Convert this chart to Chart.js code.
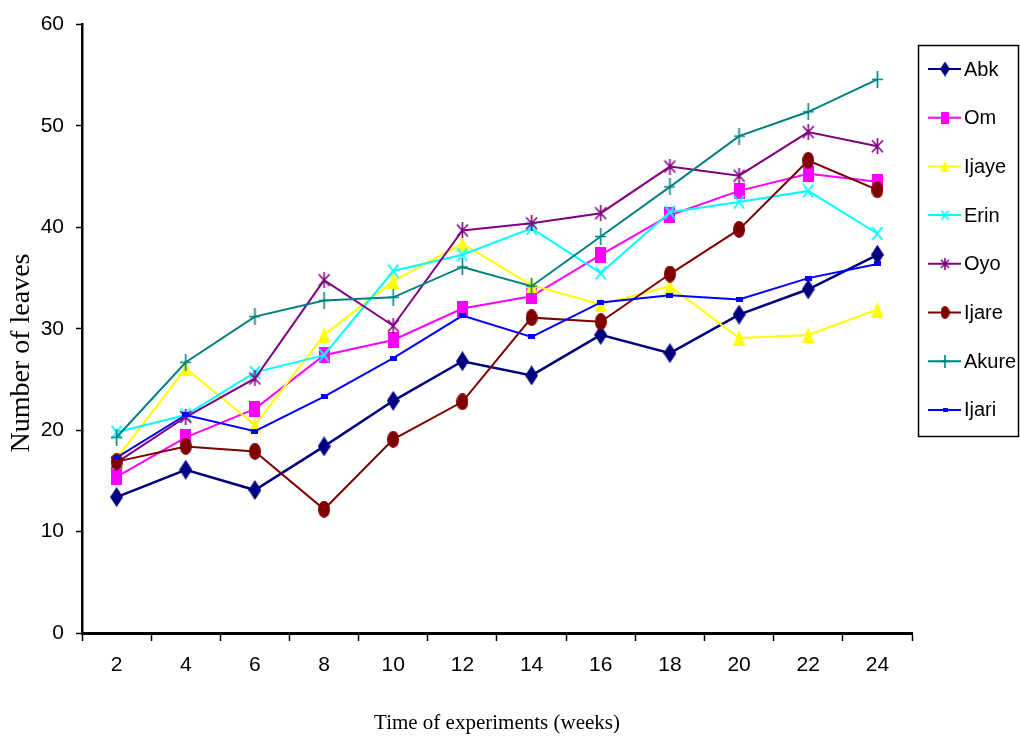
<!DOCTYPE html>
<html>
<head>
<meta charset="utf-8">
<title>Number of leaves</title>
<script src="https://cdn.jsdelivr.net/npm/chart.js@4.4.1/dist/chart.umd.min.js"></script>
<style>
  body { margin: 0; background: #fff; }
  canvas { display: block; }
</style>
</head>
<body>
<canvas id="myChart" width="1020" height="746"></canvas>
<script>
let weeks = ["2", "4", "6", "8", "10", "12", "14", "16", "18", "20", "22", "24"];

let abk   = [13.4, 16.1, 14.1, 18.4, 22.9, 26.8, 25.4, 29.4, 27.6, 31.4, 33.9, 37.3];
let om    = [15.4, 19.3, 22.1, 27.4, 28.9, 32.0, 33.2, 37.3, 41.2, 43.6, 45.3, 44.5];
let ijaye = [17.2, 26.1, 20.5, 29.4, 34.7, 38.4, 34.3, 32.4, 34.2, 29.1, 29.4, 31.9];
let erin  = [19.8, 21.5, 25.7, 27.4, 35.7, 37.3, 39.9, 35.5, 41.5, 42.5, 43.6, 39.4];
let oyo   = [16.8, 21.3, 25.1, 34.8, 30.3, 39.7, 40.4, 41.4, 46.0, 45.1, 49.4, 48.0];
let ijare = [16.9, 18.4, 17.9, 12.2, 19.1, 22.8, 31.1, 30.7, 35.4, 39.8, 46.6, 43.7];
let akure = [19.3, 26.7, 31.2, 32.8, 33.1, 36.1, 34.2, 39.1, 44.0, 49.0, 51.4, 54.6];
let ijari = [17.3, 21.5, 19.9, 23.3, 27.1, 31.3, 29.2, 32.6, 33.3, 32.9, 35.0, 36.4];

let names  = ["Abk", "Om", "Ijaye", "Erin", "Oyo", "Ijare", "Akure", "Ijari"];
let series = [abk, om, ijaye, erin, oyo, ijare, akure, ijari];
let colors = ["#000080", "#ff00ff", "#ffff00", "#00ffff", "#800080", "#800000", "#008080", "#0000ff"];
let shapes = ["diamond", "square", "triangle", "cross", "star", "ellipse", "plus", "dash"];

let xTitle = "Time of experiments (weeks)";
let yTitle = "Number of leaves";

let sans = "'Liberation Sans', Arial, sans-serif";
let serif = "'Liberation Serif', 'DejaVu Serif', serif";

// small canvases used as point styles (Excel-like markers)
function marker(kind, color, s) {
    let sizes = {
        diamond: [13, 20], square: [11, 16], triangle: [12, 16], cross: [12, 15],
        star: [13, 16], ellipse: [12, 17], plus: [11, 17], dash: [7, 5]
    };
    let w = Math.round(sizes[kind][0] * s);
    let h = Math.round(sizes[kind][1] * s);
    let c = document.createElement("canvas");
    c.width = w;
    c.height = h;
    let ctx = c.getContext("2d");
    ctx.fillStyle = color;
    ctx.strokeStyle = color;
    ctx.lineWidth = 1.6;
    ctx.beginPath();
    if (kind == "diamond") {
        ctx.moveTo(w / 2, 0); ctx.lineTo(w, h / 2); ctx.lineTo(w / 2, h); ctx.lineTo(0, h / 2);
        ctx.closePath(); ctx.fill();
    } else if (kind == "square" || kind == "dash") {
        ctx.fillRect(0, 0, w, h);
    } else if (kind == "triangle") {
        ctx.moveTo(w / 2, 0); ctx.lineTo(w, h); ctx.lineTo(0, h);
        ctx.closePath(); ctx.fill();
    } else if (kind == "cross") {
        ctx.lineWidth = 2;
        ctx.moveTo(1, 1); ctx.lineTo(w - 1, h - 1);
        ctx.moveTo(w - 1, 1); ctx.lineTo(1, h - 1);
        ctx.stroke();
    } else if (kind == "star") {
        ctx.moveTo(1, 2); ctx.lineTo(w - 1, h - 2);
        ctx.moveTo(w - 1, 2); ctx.lineTo(1, h - 2);
        ctx.moveTo(w / 2, 0); ctx.lineTo(w / 2, h);
        ctx.stroke();
    } else if (kind == "ellipse") {
        ctx.ellipse(w / 2, h / 2, w / 2, h / 2, 0, 0, Math.PI * 2);
        ctx.fill();
    } else if (kind == "plus") {
        ctx.moveTo(w / 2, 0); ctx.lineTo(w / 2, h);
        ctx.moveTo(0, h / 2); ctx.lineTo(w, h / 2);
        ctx.stroke();
    }
    return c;
}

let legendMarks = shapes.map((k, i) => marker(k, colors[i], 0.75));

let datasets = names.map((n, i) => ({
    label: n,
    data: series[i],
    borderColor: colors[i],
    backgroundColor: colors[i],
    borderWidth: i == 0 ? 2.5 : 2,
    pointStyle: marker(shapes[i], colors[i], 1),
    pointRadius: 6,
    tension: 0,
    order: names.length - i
}));

// legend box on the right and the rotated y title
const extras = {
    id: "extras",
    afterDraw(chart) {
        let ctx = chart.ctx;
        ctx.save();
        ctx.strokeStyle = "#000";
        ctx.lineWidth = 1.5;
        ctx.strokeRect(918.5, 45.5, 100, 391);
        chart.data.datasets.forEach((ds, i) => {
            let y = 69 + i * 48.7;
            ctx.strokeStyle = ds.borderColor;
            ctx.lineWidth = 2;
            ctx.beginPath();
            ctx.moveTo(928, y);
            ctx.lineTo(961, y);
            ctx.stroke();
            let m = legendMarks[i];
            ctx.drawImage(m, 945 - m.width / 2, y - m.height / 2);
            ctx.fillStyle = "#000";
            ctx.font = "20px " + sans;
            ctx.textBaseline = "middle";
            ctx.textAlign = "left";
            ctx.fillText(ds.label, 964, y + 1);
        });
        ctx.translate(22, 353);
        ctx.rotate(-Math.PI / 2);
        ctx.fillStyle = "#000";
        ctx.font = "28px " + serif;
        ctx.textAlign = "center";
        ctx.textBaseline = "middle";
        ctx.fillText(yTitle, 0, 0);
        ctx.restore();
    }
};

new Chart(document.getElementById("myChart"), {
    type: "line",
    data: { labels: weeks, datasets: datasets },
    plugins: [extras],
    options: {
        responsive: false,
        animation: false,
        layout: { padding: { top: 9, right: 108, left: 0, bottom: 0 } },
        plugins: { legend: { display: false }, tooltip: { enabled: false } },
        scales: {
            x: {
                offset: true,
                grid: { offset: true, drawOnChartArea: false, tickLength: 8, tickColor: "#000", tickWidth: 1.5 },
                border: { color: "#000", width: 3 },
                ticks: { color: "#000", font: { family: sans, size: 21 }, padding: 12, maxRotation: 0 },
                title: { display: true, text: xTitle, color: "#000", font: { family: serif, size: 21 }, padding: { top: 0, bottom: 10 } },
                afterFit: s => { s.height = 113; }
            },
            y: {
                min: 0,
                max: 60,
                ticks: { stepSize: 10, color: "#000", font: { family: sans, size: 21 }, padding: 12 },
                grid: { drawOnChartArea: false, tickLength: 6, tickColor: "#000", tickWidth: 1.5 },
                border: { color: "#000", width: 2.5 },
                afterFit: s => { s.width = 82; }
            }
        }
    }
});
</script>
</body>
</html>
